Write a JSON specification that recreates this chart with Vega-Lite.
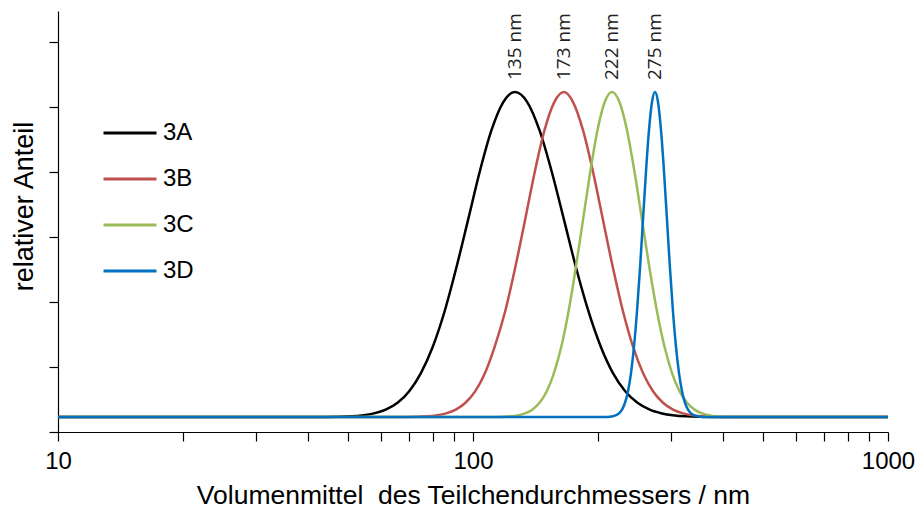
{
  "$schema": "https://vega.github.io/schema/vega-lite/v6.json",
  "width": 830,
  "height": 421,
  "autosize": {"type": "none"},
  "padding": {"left": 58, "top": 11, "right": 32, "bottom": 83},
  "background": "white",
  "config": {
    "view": {"stroke": null},
    "font": "Liberation Sans",
    "axis": {"domainColor": "black", "tickColor": "black", "labelColor": "black", "titleColor": "black", "grid": false, "titleFontWeight": "normal", "domainWidth": 1.2, "tickWidth": 1.2}
  },
  "datasets": {
    "curves": [
      {"s":"3A","d":10,"v":0.23},{"s":"3A","d":44.5,"v":0.232},{"s":"3A","d":50.7,"v":0.241},{"s":"3A","d":57.7,"v":0.286},{"s":"3A","d":61.6,"v":0.344},{"s":"3A","d":65.8,"v":0.45},{"s":"3A","d":70.2,"v":0.628},{"s":"3A","d":74.9,"v":0.907},{"s":"3A","d":80.0,"v":1.312},{"s":"3A","d":85.4,"v":1.854},{"s":"3A","d":91.1,"v":2.519},{"s":"3A","d":97.3,"v":3.263},{"s":"3A","d":103.8,"v":4.004},{"s":"3A","d":110.8,"v":4.643},{"s":"3A","d":118.3,"v":5.076},{"s":"3A","d":126.2,"v":5.23},{"s":"3A","d":135.1,"v":5.076},{"s":"3A","d":144.6,"v":4.643},{"s":"3A","d":154.8,"v":4.004},{"s":"3A","d":165.7,"v":3.263},{"s":"3A","d":177.3,"v":2.519},{"s":"3A","d":189.8,"v":1.854},{"s":"3A","d":203.2,"v":1.312},{"s":"3A","d":217.4,"v":0.907},{"s":"3A","d":232.7,"v":0.628},{"s":"3A","d":249.1,"v":0.45},{"s":"3A","d":266.6,"v":0.344},{"s":"3A","d":285.4,"v":0.286},{"s":"3A","d":326.9,"v":0.241},{"s":"3A","d":374.5,"v":0.232},{"s":"3A","d":1000,"v":0.23},
      {"s":"3B","d":10,"v":0.23},{"s":"3B","d":69.3,"v":0.232},{"s":"3B","d":77.3,"v":0.241},{"s":"3B","d":86.1,"v":0.286},{"s":"3B","d":90.9,"v":0.344},{"s":"3B","d":95.9,"v":0.45},{"s":"3B","d":101.3,"v":0.628},{"s":"3B","d":106.9,"v":0.907},{"s":"3B","d":112.8,"v":1.312},{"s":"3B","d":119.5,"v":1.854},{"s":"3B","d":126.3,"v":2.519},{"s":"3B","d":133.5,"v":3.263},{"s":"3B","d":140.9,"v":4.004},{"s":"3B","d":148.7,"v":4.643},{"s":"3B","d":157.0,"v":5.076},{"s":"3B","d":165.7,"v":5.23},{"s":"3B","d":174.2,"v":5.076},{"s":"3B","d":184.1,"v":4.643},{"s":"3B","d":194.6,"v":4.004},{"s":"3B","d":205.7,"v":3.263},{"s":"3B","d":217.5,"v":2.519},{"s":"3B","d":229.9,"v":1.854},{"s":"3B","d":243.0,"v":1.312},{"s":"3B","d":256.8,"v":0.907},{"s":"3B","d":271.5,"v":0.628},{"s":"3B","d":287.0,"v":0.45},{"s":"3B","d":303.4,"v":0.344},{"s":"3B","d":320.7,"v":0.286},{"s":"3B","d":358.3,"v":0.241},{"s":"3B","d":400.3,"v":0.232},{"s":"3B","d":1000,"v":0.23},
      {"s":"3C","d":10,"v":0.23},{"s":"3C","d":113.6,"v":0.232},{"s":"3C","d":123.1,"v":0.241},{"s":"3C","d":133.4,"v":0.286},{"s":"3C","d":138.9,"v":0.344},{"s":"3C","d":144.6,"v":0.45},{"s":"3C","d":150.6,"v":0.628},{"s":"3C","d":156.7,"v":0.907},{"s":"3C","d":163.2,"v":1.312},{"s":"3C","d":169.9,"v":1.854},{"s":"3C","d":176.8,"v":2.519},{"s":"3C","d":184.1,"v":3.263},{"s":"3C","d":191.7,"v":4.004},{"s":"3C","d":199.5,"v":4.643},{"s":"3C","d":207.7,"v":5.076},{"s":"3C","d":216.2,"v":5.23},{"s":"3C","d":225.4,"v":5.076},{"s":"3C","d":235.0,"v":4.643},{"s":"3C","d":245.0,"v":4.004},{"s":"3C","d":255.4,"v":3.263},{"s":"3C","d":266.3,"v":2.519},{"s":"3C","d":277.6,"v":1.854},{"s":"3C","d":289.4,"v":1.312},{"s":"3C","d":301.7,"v":0.907},{"s":"3C","d":314.5,"v":0.628},{"s":"3C","d":327.9,"v":0.45},{"s":"3C","d":341.8,"v":0.344},{"s":"3C","d":356.3,"v":0.286},{"s":"3C","d":387.2,"v":0.241},{"s":"3C","d":420.8,"v":0.232},{"s":"3C","d":1000,"v":0.23},
      {"s":"3D","d":10,"v":0.23},{"s":"3D","d":210.3,"v":0.232},{"s":"3D","d":217.4,"v":0.241},{"s":"3D","d":224.8,"v":0.286},{"s":"3D","d":228.6,"v":0.344},{"s":"3D","d":232.4,"v":0.45},{"s":"3D","d":236.3,"v":0.628},{"s":"3D","d":240.3,"v":0.907},{"s":"3D","d":244.3,"v":1.312},{"s":"3D","d":248.4,"v":1.854},{"s":"3D","d":252.6,"v":2.519},{"s":"3D","d":256.8,"v":3.263},{"s":"3D","d":261.1,"v":4.004},{"s":"3D","d":265.5,"v":4.643},{"s":"3D","d":270.0,"v":5.076},{"s":"3D","d":274.5,"v":5.23},{"s":"3D","d":279.1,"v":5.076},{"s":"3D","d":283.8,"v":4.643},{"s":"3D","d":288.6,"v":4.004},{"s":"3D","d":293.4,"v":3.263},{"s":"3D","d":298.3,"v":2.519},{"s":"3D","d":303.3,"v":1.854},{"s":"3D","d":308.4,"v":1.312},{"s":"3D","d":313.6,"v":0.907},{"s":"3D","d":318.9,"v":0.628},{"s":"3D","d":324.2,"v":0.45},{"s":"3D","d":329.7,"v":0.344},{"s":"3D","d":335.2,"v":0.286},{"s":"3D","d":346.6,"v":0.241},{"s":"3D","d":358.3,"v":0.232},{"s":"3D","d":1000,"v":0.23}
    ],
    "peaks": [
      {"label":"135 nm","d":126.2,"v":5.23},
      {"label":"173 nm","d":165.7,"v":5.23},
      {"label":"222 nm","d":216.2,"v":5.23},
      {"label":"275 nm","d":274.5,"v":5.23}
    ]
  },
  "layer": [
    {
      "data": {"name": "curves"},
      "mark": {"type": "line", "strokeWidth": 2.5, "interpolate": "monotone"},
      "encoding": {
        "x": {
          "field": "d", "type": "quantitative",
          "scale": {"type": "log", "domain": [10, 1000], "nice": false},
          "axis": {
            "title": "Volumenmittel\u00a0 des Teilchendurchmessers / nm",
            "values": [10,20,30,40,50,60,70,80,90,100,200,300,400,500,600,700,800,900,1000],
            "labelExpr": "(datum.value == 10 || datum.value == 100 || datum.value == 1000) ? '' + datum.value : ''",
            "labelOverlap": false,
            "labelFlush": false,
            "labelFontSize": 24,
            "labelPadding": 8,
            "tickSize": 9,
            "titleFontSize": 26.5,
            "titleBaseline": "alphabetic",
            "titleY": 71
          }
        },
        "y": {
          "field": "v", "type": "quantitative",
          "scale": {"domain": [0, 6.477], "nice": false, "zero": false},
          "axis": {
            "title": "relativer Anteil",
            "values": [0,1,2,3,4,5,6],
            "labels": false,
            "tickSize": 9,
            "titleFontSize": 27,
            "titleAngle": 270,
            "titleBaseline": "alphabetic",
            "titleAlign": "center",
            "titleX": -26,
            "titleY": 195
          }
        },
        "color": {
          "field": "s", "type": "nominal",
          "scale": {"domain": ["3A","3B","3C","3D"], "range": ["#000000","#C0504D","#9BBB59","#0070C0"]},
          "legend": {
            "title": null,
            "orient": "none",
            "legendX": 44,
            "legendY": 94,
            "padding": 0,
            "symbolType": "stroke",
            "symbolSize": 2809,
            "symbolStrokeWidth": 3,
            "labelFontSize": 24,
            "labelOffset": 5,
            "labelColor": "black",
            "rowPadding": 6,
            "offset": 0
          }
        }
      }
    },
    {
      "data": {"name": "peaks"},
      "mark": {"type": "text", "angle": 270, "align": "left", "baseline": "middle", "dx": 12, "font": "Open Sans", "fontSize": 19, "color": "#222222"},
      "encoding": {
        "x": {"field": "d", "type": "quantitative"},
        "y": {"field": "v", "type": "quantitative"},
        "text": {"field": "label"}
      }
    }
  ]
}
